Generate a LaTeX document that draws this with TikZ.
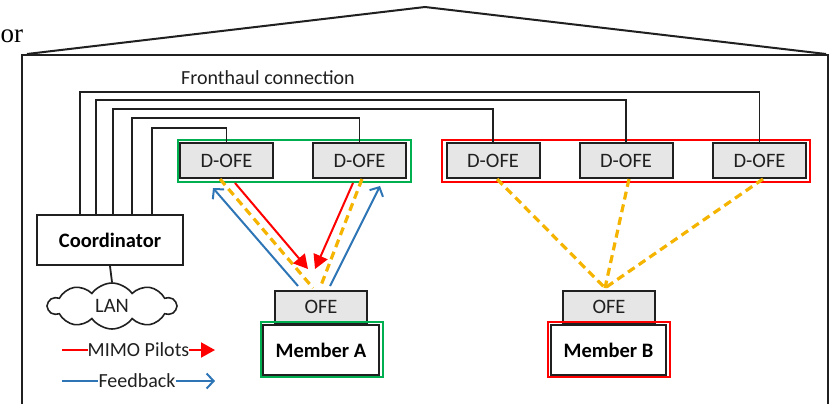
\documentclass[tikz,border=0pt]{standalone}
\usepackage{fontspec}
\setmainfont{Carlito}
\newfontfamily\seriffont{Liberation Serif}
\usetikzlibrary{arrows.meta,shapes.symbols}
\definecolor{myred}{HTML}{FF0000}
\definecolor{myblue}{HTML}{2E75B6}
\definecolor{mygold}{HTML}{F4B400}
\definecolor{mygreen}{HTML}{00B050}
\definecolor{boxgray}{HTML}{E6E6E6}
\definecolor{ink}{HTML}{202020}
\tikzset{
  txt/.style={font=\fontsize{20}{24}\selectfont, inner sep=0pt, text=ink},
  dofe/.style={draw=ink, line width=2pt, fill=boxgray, minimum width=93pt, minimum height=35pt, font=\fontsize{20.5}{24}\selectfont, text=ink},
  ofe/.style={draw=ink, line width=2pt, fill=boxgray, minimum width=92pt, minimum height=32pt, font=\fontsize{20.5}{24}\selectfont, text=ink},
  member/.style={draw=ink, line width=2pt, fill=white, minimum width=116pt, minimum height=50pt, font=\fontsize{20.5}{24}\selectfont\bfseries},
  coordbox/.style={draw=ink, line width=2pt, fill=white, minimum width=146pt, minimum height=50pt, font=\fontsize{20.5}{24}\selectfont\bfseries},
  fh/.style={draw=ink, line width=1.8pt},
  frame/.style={line width=2.2pt},
  pilot/.style={draw=myred, line width=2pt, -{Triangle[length=14pt,width=15pt]}},
  fb/.style={draw=myblue, line width=2pt, -{Straight Barb[length=7pt,width=15pt,line width=2pt]}},
  ydash/.style={draw=mygold, line width=3.2pt, dash pattern=on 8pt off 5pt},
}
\begin{document}
\begin{tikzpicture}[x=1pt,y=-1pt]
\useasboundingbox (0,0) rectangle (834,404);

% serif text fragment at top left
\node[anchor=base west, inner sep=0pt, font=\seriffont\fontsize{27}{27}\selectfont] (or) at (0.5,43) {or};

% house outline
\draw[ink, line width=2pt] (27,54) -- (425,7) -- (826,54);
\draw[ink, line width=2pt] (22,404) -- (22,55) -- (828,55) -- (828,404);

% fronthaul label
\node[txt] (fhlabel) at (268,78) {Fronthaul connection};

% D-OFE boxes
\node[dofe] (G1) at (226.5,160.5) {D-OFE};
\node[dofe] (G2) at (359.5,160.5) {D-OFE};
\node[dofe] (R1) at (493,160.5) {D-OFE};
\node[dofe] (R2) at (626,160.5) {D-OFE};
\node[dofe] (R3) at (759.5,160.5) {D-OFE};
\draw[frame, draw=mygreen] (178,140) rectangle (411,182);
\draw[frame, draw=myred] (442,140) rectangle (810,182);

% coordinator and LAN
\node[coordbox] (coord) at (110,240) {Coordinator};
\node[cloud, draw=ink, line width=1.6pt, cloud puffs=10, cloud puff arc=110, aspect=2.6, minimum width=128pt, minimum height=46pt, inner sep=0pt, font=\fontsize{20.5}{24}\selectfont, text=ink] (lan) at (112,306) {LAN};
\draw[fh] (coord.south) -- (lan.north);

% fronthaul connections
\coordinate (h1) at (0,92);
\coordinate (h2) at (0,100);
\coordinate (h3) at (0,109);
\coordinate (h4) at (0,118);
\coordinate (h5) at (0,128);
\draw[fh] ([xshift=-30pt]coord.north) |- (h1 -| R3) -- (R3.north);
\draw[fh] ([xshift=-14pt]coord.north) |- (h2 -| R2) -- (R2.north);
\draw[fh] ([xshift=3pt]coord.north) |- (h3 -| R1) -- (R1.north);
\draw[fh] ([xshift=22pt]coord.north) |- (h4 -| G2) -- (G2.north);
\draw[fh] ([xshift=42pt]coord.north) |- (h5 -| G1) -- (G1.north);

% members
\node[ofe] (ofeA) at (321,307) {OFE};
\node[member] (memA) at (321,350) {Member A};
\draw[frame, draw=mygreen] (261,322) rectangle (383,377);
\node[ofe] (ofeB) at (609,307) {OFE};
\node[member, minimum width=115pt] (memB) at (608.5,350) {Member B};
\draw[frame, draw=myred] (548,322) rectangle (670,377);

% yellow dashed links
\draw[ydash] ([xshift=-6.5pt]G1.south) -- ([xshift=-8pt,yshift=2pt]ofeA.north);
\draw[ydash] ([xshift=2.5pt]G2.south) -- ([xshift=-1pt,yshift=2pt]ofeA.north);
\draw[ydash] ([xshift=4pt]R1.south) -- ([xshift=-4pt,yshift=2pt]ofeB.north);
\draw[ydash] ([xshift=3pt]R2.south) -- ([xshift=-4pt,yshift=2pt]ofeB.north);
\draw[ydash] ([xshift=3.5pt]R3.south) -- ([xshift=-4pt,yshift=2pt]ofeB.north);

% pilots and feedback
\draw[pilot] ([xshift=8.5pt,yshift=-4pt]G1.south) -- ([xshift=-13pt,yshift=21pt]ofeA.north);
\draw[pilot] ([xshift=-6.5pt,yshift=-4pt]G2.south) -- ([xshift=-6pt,yshift=21pt]ofeA.north);
\draw[fb] ([xshift=-23pt,yshift=4pt]ofeA.north) -- ([xshift=-13.5pt,yshift=-9pt]G1.south);
\draw[fb] ([xshift=9pt,yshift=4pt]ofeA.north) -- ([xshift=20.5pt,yshift=-7pt]G2.south);

% legend
\node[txt] (leg1) at (138.5,350) {MIMO Pilots};
\coordinate (l1a) at (62,350);
\coordinate (l1b) at (215,350);
\draw[myred, line width=2pt] (l1a) -- (leg1.west);
\draw[pilot] (leg1.east) -- (l1b);
\node[txt] (leg2) at (137,381) {Feedback};
\coordinate (l2a) at (62,381);
\coordinate (l2b) at (215,381);
\draw[myblue, line width=2pt] (l2a) -- (leg2.west);
\draw[fb] (leg2.east) -- (l2b);
\end{tikzpicture}
\end{document}
